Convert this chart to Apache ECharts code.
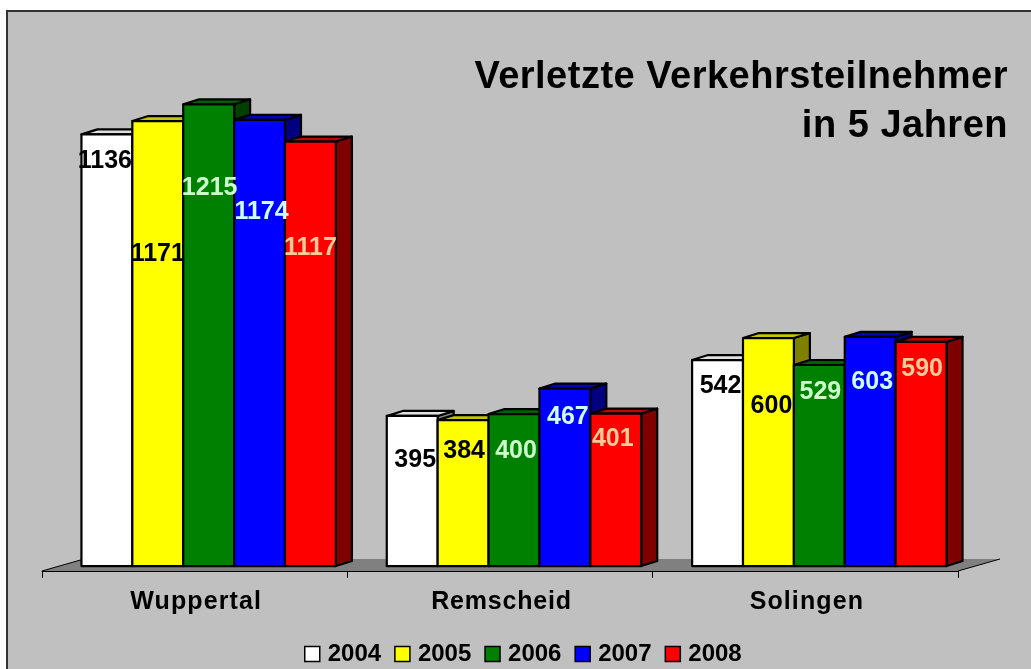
<!DOCTYPE html>
<html>
<head>
<meta charset="utf-8">
<style>html,body{margin:0;padding:0;background:#fff}#c{width:1031px;height:669px}</style>
<script src="https://cdn.jsdelivr.net/npm/echarts@6/dist/echarts.min.js"></script>
</head>
<body>
<div id="c"></div>
<script>
// ---- data ----
const categories = ['Wuppertal', 'Remscheid', 'Solingen'];
const years = ['2004', '2005', '2006', '2007', '2008'];
const v2004 = [1136, 395, 542];
const v2005 = [1171, 384, 600];
const v2006 = [1215, 400, 529];
const v2007 = [1174, 467, 603];
const v2008 = [1117, 401, 590];
const seriesValues = [v2004, v2005, v2006, v2007, v2008];

// ---- styles ----
const frontColors = ['#ffffff', '#ffff00', '#008000', '#0000ff', '#ff0000'];
const topColors = ['#e0e0e0', '#c4c400', '#006000', '#0000c0', '#c00000'];
const sideColors = ['#808080', '#808000', '#004000', '#000080', '#800000'];
const labelColors = ['#000000', '#000000', '#ccffcc', '#ccffff', '#ffcc99'];
// label placement: px below the bar's top edge / px from the bar's centre
const labelDrop = [[27, 44, 26], [133, 31, 68], [84, 37, 27], [92, 29, 45], [107, 25, 27]];
const labelShift = [[-2, 3, 3], [0, 1, 3], [1, 2, 1], [2, 3, 2], [0, -3, 1]];
const depthX = 16, depthY = 5, groupShift = 14;

// Wide-tracked headings: native canvas letter spacing for the texts that have it in the reference.
const tracking = { 'Verletzte Verkehrsteilnehmer': '0.5px', 'in 5 Jahren': '0.5px',
  'Wuppertal': '1.1px', 'Remscheid': '0.8px', 'Solingen': '1.1px' };
const fillTextOrig = CanvasRenderingContext2D.prototype.fillText;
CanvasRenderingContext2D.prototype.fillText = function (t, x, y, m) {
  this.letterSpacing = tracking[t] || '0px';
  return m === undefined ? fillTextOrig.call(this, t, x, y) : fillTextOrig.call(this, t, x, y, m);
};

function barRenderer(si) {
  return function (params, api) {
    const ci = api.value(0);
    const base = api.coord([ci, 0]);
    const top = api.coord([ci, api.value(1)]);
    const band = api.size([1, 0])[0];
    const w = band / 6;
    const x0 = base[0] + groupShift - 2.5 * w + si * w;
    const x1 = x0 + w, yT = top[1], yB = base[1];
    const line = { stroke: '#000', lineWidth: 2.2, lineJoin: 'round' };
    return {
      type: 'group',
      children: [
        { type: 'polygon', shape: { points: [[x1, yT], [x1 + depthX, yT - depthY], [x1 + depthX, yB - depthY], [x1, yB]] },
          style: Object.assign({ fill: sideColors[si] }, line) },
        { type: 'polygon', shape: { points: [[x0, yT], [x0 + depthX, yT - depthY], [x1 + depthX, yT - depthY], [x1, yT]] },
          style: Object.assign({ fill: topColors[si] }, line) },
        { type: 'rect', shape: { x: x0, y: yT, width: w, height: yB - yT },
          style: Object.assign({ fill: frontColors[si] }, line) },
        { type: 'text', z2: 100,
          style: { text: String(api.value(1)), x: x0 + w / 2 + labelShift[si][ci], y: yT + labelDrop[si][ci],
            fill: labelColors[si], font: 'bold 25px "Liberation Sans", Arial, sans-serif',
            align: 'center', verticalAlign: 'middle' } }
      ]
    };
  };
}

const chart = echarts.init(document.getElementById('c'), null, { renderer: 'canvas' });
chart.setOption({
  animation: false,
  backgroundColor: '#ffffff',
  textStyle: { fontFamily: '"Liberation Sans", Arial, sans-serif' },
  title: {
    text: 'Verletzte Verkehrsteilnehmer\nin 5 Jahren',
    left: 1008, top: 53, textAlign: 'right', padding: 0,
    textStyle: { fontSize: 38, fontWeight: 'bold', color: '#000', lineHeight: 49 }
  },
  legend: {
    left: 299, top: 637, itemWidth: 15, itemHeight: 15, itemGap: 13,
    icon: 'rect',
    itemStyle: { borderColor: '#000', borderWidth: 1.5 },
    textStyle: { fontSize: 24, fontWeight: 'bold', color: '#000', padding: [0, 0, 0, 3] },
    data: years
  },
  grid: { left: 42, width: 916, top: 72, height: 499 },
  xAxis: {
    type: 'category', data: categories,
    axisLine: { onZero: false, lineStyle: { color: '#000', width: 1 } },
    axisTick: { show: true, length: 7, lineStyle: { color: '#000', width: 1 } },
    axisLabel: { margin: 19, fontSize: 25, fontWeight: 'bold', color: '#000', padding: [0, 0, 0, 3] }
  },
  // the axis floor sits just under the value-0 plane of the bars
  yAxis: { type: 'value', min: -13, max: 1300, show: false, splitLine: { show: false } },
  graphic: [
    { type: 'rect', z: -10, shape: { x: 7, y: 11, width: 1100, height: 800 },
      style: { fill: '#c0c0c0', stroke: '#333', lineWidth: 2 } },
    { type: 'polygon', z: -5, shape: { points: [[42, 571], [958, 571], [1000, 559], [84, 559]] },
      style: { fill: '#808080' } },
    { type: 'polyline', z: -4, shape: { points: [[42, 571], [84, 559]] }, style: { stroke: '#000', lineWidth: 1, fill: null } },
    { type: 'polyline', z: -4, shape: { points: [[958, 571], [1000, 559]] }, style: { stroke: '#000', lineWidth: 1, fill: null } }
  ],
  series: years.map((y, si) => ({
    type: 'custom', name: y,
    itemStyle: { color: frontColors[si] },
    encode: { x: 0, y: 1 },
    renderItem: barRenderer(si),
    data: seriesValues[si].map((v, ci) => [ci, v])
  }))
});
</script>
</body>
</html>
